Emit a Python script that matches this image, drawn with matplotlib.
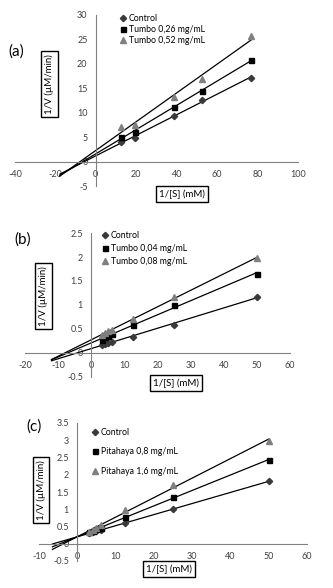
import numpy as np
import matplotlib
matplotlib.use("Agg")
import matplotlib.pyplot as plt
from matplotlib.ticker import FormatStrFormatter, FuncFormatter

plt.rcParams['font.family'] = ['Lato', 'DejaVu Sans']

# panel (a)
x_a = [12.5, 19.2, 38.5, 52.6, 76.9]
ctrl_a = [4.0, 4.8, 9.3, 12.7, 17.1]
tumbo_026 = [5.0, 6.1, 11.1, 14.5, 20.8]
tumbo_052 = [7.0, 7.4, 13.3, 16.8, 25.7]

# panel (b)
x_b = [3.125, 4.17, 5.0, 6.25, 12.5, 25, 50]
ctrl_b = [0.17, 0.19, 0.21, 0.23, 0.33, 0.59, 1.17]
tumbo_004 = [0.27, 0.33, 0.35, 0.40, 0.59, 0.99, 1.65]
tumbo_008 = [0.38, 0.42, 0.45, 0.47, 0.71, 1.16, 1.98]

# panel (c)
x_c = [3.125, 4.17, 5.0, 6.25, 12.5, 25, 50]
ctrl_c = [0.30, 0.33, 0.37, 0.40, 0.61, 1.00, 1.81]
pitahaya_08 = [0.33, 0.38, 0.42, 0.47, 0.78, 1.36, 2.42]
pitahaya_16 = [0.35, 0.41, 0.46, 0.55, 0.98, 1.69, 2.99]

W, H = 333, 588
fig = plt.figure(figsize=(W / 100, H / 100), dpi=100)


def px_box(x0, y0, x1, y1):
    return [x0 / W, 1 - y1 / H, (x1 - x0) / W, (y1 - y0) / H]


def fmt(v, pos):
    return ('%g' % round(v, 2)).replace('-', '-')


markers = [('D', '#3a3a3a', 3.2), ('s', 'black', 3.6), ('^', '#7f7f7f', 4.0)]


def panel(rect, x, series, labels, xlim, ylim, xstep, ystep, x_back, leg_anchor, leg_space):
    ax = fig.add_axes(rect)
    for (m, c, ms), y, lab in zip(markers, series, labels):
        ax.plot(x, y, linestyle='none', marker=m, color=c, markersize=ms, label=lab, zorder=3)
        k, b = np.polyfit(x, y, 1)
        xs = np.array([x_back, max(x)])
        ax.plot(xs, k * xs + b, color='black', lw=0.9, zorder=2)
    ax.set_xlim(*xlim)
    ax.set_ylim(*ylim)
    ax.set_xticks(np.arange(xlim[0], xlim[1] + xstep / 2, xstep))
    ax.set_yticks(np.arange(ylim[0], ylim[1] + ystep / 2, ystep))
    ax.xaxis.set_major_formatter(FuncFormatter(fmt))
    ax.yaxis.set_major_formatter(FuncFormatter(fmt))
    ax.spines['left'].set_position(('data', 0))
    ax.spines['bottom'].set_position(('data', 0))
    ax.spines['top'].set_visible(False)
    ax.spines['right'].set_visible(False)
    for s in ('left', 'bottom'):
        ax.spines[s].set_color('#808080')
        ax.spines[s].set_linewidth(0.8)
    ax.tick_params(length=0, labelsize=6.5, labelcolor='#404040', pad=6)
    ax.patch.set_alpha(0)
    ax.legend(loc='upper left', bbox_to_anchor=leg_anchor, bbox_transform=fig.transFigure,
              frameon=False, fontsize=6.3, handlelength=0.8, handletextpad=0.3,
              labelspacing=leg_space, borderpad=0, borderaxespad=0)
    return ax


panel(px_box(15, 15, 298, 186), x_a, [ctrl_a, tumbo_026, tumbo_052],
      ['Control', 'Tumbo 0,26 mg/mL', 'Tumbo 0,52 mg/mL'],
      (-40, 100), (-5, 30), 20, 5, -17.8, (119 / W, 1 - 14 / H), 0.25)

panel(px_box(25, 233, 290, 377), x_b, [ctrl_b, tumbo_004, tumbo_008],
      ['Control', 'Tumbo 0,04 mg/mL', 'Tumbo 0,08 mg/mL'],
      (-20, 60), (-0.5, 2.5), 10, 0.5, -12, (101 / W, 1 - 231 / H), 0.45)

panel(px_box(39, 423, 307, 561), x_c, [ctrl_c, pitahaya_08, pitahaya_16],
      ['Control', 'Pitahaya 0,8 mg/mL', 'Pitahaya 1,6 mg/mL'],
      (-10, 60), (-0.5, 3.5), 10, 0.5, -6.5, (91 / W, 1 - 428 / H), 1.2)

box = dict(boxstyle='square,pad=0.35', fc='white', ec='black', lw=1)


def ftext(x, y, s, **kw):
    fig.text(x / W, 1 - y / H, s, ha='center', va='center', **kw)


ylab = '1/V (\u00b5M/min)'
xlab = '1/[S] (mM)'
ftext(49.5, 84, ylab, rotation=90, fontsize=7, bbox=box)
ftext(182, 194, xlab, fontsize=7, bbox=box)
ftext(43.5, 296, ylab, rotation=90, fontsize=7, bbox=box)
ftext(176, 383, xlab, fontsize=7, bbox=box)
ftext(41, 490, ylab, rotation=90, fontsize=7, bbox=box)
ftext(169, 569, xlab, fontsize=7, bbox=box)

ftext(16, 52, '(a)', fontsize=11)
ftext(23, 240, '(b)', fontsize=11)
ftext(34, 427, '(c)', fontsize=11)

fig.savefig('out.png', dpi=100)
